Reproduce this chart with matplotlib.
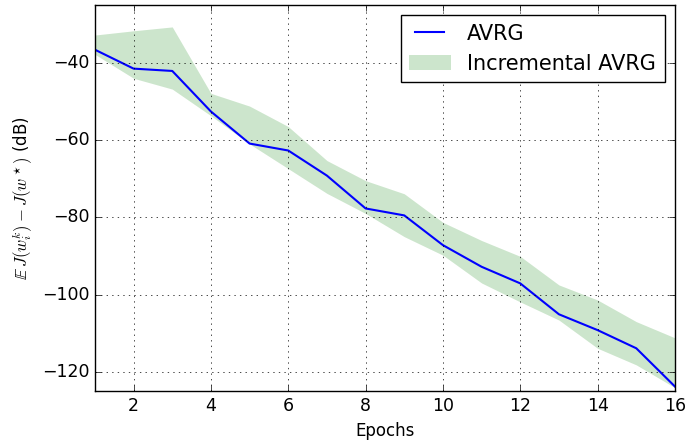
import numpy as np
import matplotlib
matplotlib.use('Agg')
import matplotlib.pyplot as plt

plt.style.use('classic')

# values
epochs = np.arange(1, 17)
avrg = [-36.6, -41.5, -42.1, -52.6, -60.9, -62.7, -69.2, -77.7,
        -79.5, -87.2, -92.8, -97.1, -105.1, -109.2, -113.9, -123.8]
inc_upper = [-32.8, -31.7, -30.7, -47.9, -51.2, -56.5, -65.3, -70.5,
             -73.9, -81.3, -86.0, -90.1, -97.5, -101.4, -107.0, -111.2]
inc_lower = [-37.8, -44.0, -46.8, -53.7, -61.0, -67.4, -73.8, -79.0,
             -85.0, -89.8, -97.0, -101.9, -106.6, -113.9, -118.2, -124.1]

fig = plt.figure(figsize=(6.88, 4.46), dpi=100)
fig.patch.set_facecolor('white')
ax = fig.add_axes([0.138, 0.123, 0.843, 0.866])

ax.plot(epochs, avrg, color='b', linewidth=1.5, label='AVRG')
ax.fill_between(epochs, inc_lower, inc_upper, color='g', alpha=0.2,
                linewidth=0, label='Incremental AVRG')

ax.set_xlim(1, 16)
ax.set_ylim(-125, -25)
ax.set_xticks([2, 4, 6, 8, 10, 12, 14, 16])
ax.set_yticks([-40, -60, -80, -100, -120])
ax.grid(True)
ax.set_xlabel('Epochs', fontsize=12)
ax.set_ylabel(r'$\mathbb{E}\,J(w_i^k) - J(w^\star)$ (dB)', fontsize=12)
ax.tick_params(labelsize=12.5)
ax.legend(loc='upper right', fontsize=15)

fig.savefig('out.png', dpi=100, facecolor='white')
